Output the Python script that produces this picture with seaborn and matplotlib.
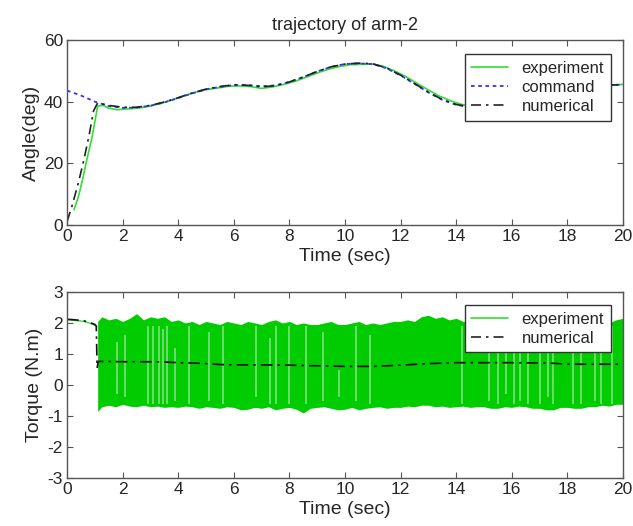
import numpy as np
import pandas as pd
import seaborn as sns
import matplotlib.pyplot as plt
from matplotlib.lines import Line2D

# ---- top panel: arm-2 angle (deg) ----
cmd_t = [0, 0.5, 1, 1.5, 2, 2.5, 3, 3.5, 4, 4.5, 5, 5.5, 6, 6.5, 7, 7.5, 8, 8.5,
         9, 9.5, 10, 10.5, 11, 11.5, 12, 12.5, 13, 13.5, 14, 14.5, 15, 15.5, 16,
         16.5, 17, 17.5, 18, 18.5, 19, 19.5, 20]
cmd_ang = [43.6, 42.0, 40.0, 38.6, 38.0, 38.1, 38.7, 39.8, 41.2, 42.7, 44.0, 44.8,
           45.4, 45.4, 45.0, 45.3, 46.4, 48.0, 49.8, 51.3, 52.2, 52.4, 52.2, 50.8,
           48.5, 45.8, 43.0, 40.6, 39.0, 38.2, 38.0, 38.3, 39.0, 40.1, 41.4, 42.6,
           43.6, 44.4, 45.0, 45.4, 45.5]

num_t = [0, 0.17, 0.4, 0.6, 0.8, 0.95, 1.1, 1.5, 2, 2.5, 3, 3.5, 4, 4.5, 5, 5.5, 6,
         6.5, 7, 7.5, 8, 8.5, 9, 9.5, 10, 10.5, 11, 11.5, 12, 12.5, 13, 13.5, 14,
         14.5, 15, 15.5, 16, 16.5, 17, 17.5, 18, 18.5, 19, 19.5, 20]
num_ang = [1.2, 6.0, 13.5, 21.0, 29.5, 37.0, 39.6, 38.8, 38.2, 38.2, 38.8, 39.9,
           41.3, 42.8, 44.1, 44.9, 45.5, 45.3, 44.8, 45.2, 46.4, 48.0, 49.8, 51.3,
           52.2, 52.5, 52.3, 50.9, 48.6, 45.9, 43.1, 40.7, 39.1, 38.3, 38.0, 38.3,
           39.0, 40.1, 41.4, 42.6, 43.6, 44.4, 45.0, 45.4, 45.5]

exp_t = [0.25, 0.4, 0.55, 0.7, 0.9, 1.1, 1.3, 1.5, 1.8, 2.1, 2.4, 2.7, 3.0, 3.4,
         3.8, 4.2, 4.6, 5.0, 5.4, 5.8, 6.2, 6.6, 7.0, 7.4, 7.8, 8.2, 8.6, 9.0, 9.4,
         9.8, 10.2, 10.6, 11.0, 11.4, 11.8, 12.2, 12.6, 13.0, 13.4, 13.8, 14.2,
         14.6, 15.0, 15.5, 16, 16.5, 17, 17.5, 18, 18.5, 19, 19.5, 20]
exp_ang = [5.0, 9.0, 14.5, 20.8, 28.5, 38.6, 38.8, 37.9, 37.4, 37.6, 37.8, 38.1,
           38.6, 39.5, 40.6, 41.9, 43.0, 43.9, 44.4, 45.0, 45.1, 44.9, 44.3, 44.8,
           45.6, 46.6, 47.9, 49.3, 50.5, 51.4, 52.0, 52.1, 52.2, 51.4, 49.9, 48.1,
           45.9, 43.8, 41.8, 40.3, 39.1, 38.3, 37.9, 38.2, 39.0, 40.1, 41.4, 42.6,
           43.6, 44.4, 45.0, 45.4, 45.6]

# ---- bottom panel: torque (N.m) ----
tq_num_t = [0, 0.3, 0.6, 0.8, 1.0, 1.05, 1.08, 1.12, 1.5, 2, 3, 3.5, 4, 4.5, 5,
            5.5, 6, 7, 8, 9, 10, 11, 12, 13, 14, 15, 16, 17, 17.5, 18, 19, 20]
tq_num = [2.12, 2.1, 2.07, 2.02, 1.95, 1.9, 0.55, 0.76, 0.76, 0.75, 0.75, 0.74,
          0.72, 0.71, 0.69, 0.66, 0.65, 0.65, 0.64, 0.62, 0.6, 0.6, 0.64, 0.69,
          0.72, 0.72, 0.72, 0.71, 0.7, 0.67, 0.67, 0.67]

tq_pre_t = [0, 0.3, 0.6, 0.8, 1.0, 1.08]
tq_pre = [2.1, 2.08, 2.05, 2.0, 1.93, 1.88]

# envelope of the dense experimental torque signal
band_t = [1.1, 1.25, 1.5, 1.75, 2, 2.25, 2.5, 2.75, 3, 3.25, 3.5, 3.75, 4, 4.25,
          4.5, 4.75, 5, 5.25, 5.5, 5.75, 6, 6.25, 6.5, 6.75, 7, 7.25, 7.5, 7.75,
          8, 8.25, 8.5, 8.75, 9, 9.25, 9.5, 9.75, 10, 10.25, 10.5, 10.75, 11,
          11.25, 11.5, 11.75, 12, 12.25, 12.5, 12.75, 13, 13.25, 13.5, 13.75, 14,
          14.25, 14.5, 14.75, 15, 15.25, 15.5, 15.75, 16, 16.25, 16.5, 16.75, 17,
          17.25, 17.5, 17.75, 18, 18.25, 18.5, 18.75, 19, 19.25, 19.5, 19.75, 20]
band_hi = [2.05, 2.2, 2.1, 2.15, 2.05, 2.15, 2.3, 2.1, 2.2, 2.15, 2.2, 2.05,
           2.1, 2.0, 2.05, 1.95, 2.05, 2.0, 1.95, 2.05, 2.0, 1.95, 2.05, 2.0,
           1.95, 2.05, 2.1, 2.0, 2.05, 1.95, 2.0, 1.95, 1.95, 2.0, 2.05, 1.95,
           1.95, 2.0, 2.05, 1.95, 2.0, 1.95, 2.0, 2.05, 2.05, 2.1, 2.05, 2.2,
           2.25, 2.15, 2.2, 2.1, 2.15, 2.05, 2.05, 2.1, 2.1, 2.05, 2.05, 2.0,
           2.0, 2.1, 2.05, 2.1, 2.05, 2.0, 2.05, 1.95, 2.0, 2.05, 2.1, 2.0,
           2.05, 2.0, 2.0, 2.1, 2.15]
band_lo = [-0.85, -0.7, -0.65, -0.7, -0.62, -0.68, -0.7, -0.65, -0.7, -0.68,
           -0.72, -0.7, -0.72, -0.68, -0.7, -0.75, -0.7, -0.72, -0.75, -0.7,
           -0.72, -0.8, -0.78, -0.72, -0.75, -0.7, -0.8, -0.75, -0.72, -0.78,
           -0.9, -0.75, -0.72, -0.7, -0.75, -0.8, -0.78, -0.72, -0.8, -0.75,
           -0.72, -0.7, -0.75, -0.72, -0.72, -0.68, -0.7, -0.65, -0.65, -0.7,
           -0.68, -0.72, -0.7, -0.68, -0.72, -0.7, -0.7, -0.75, -0.75, -0.7,
           -0.72, -0.68, -0.7, -0.75, -0.75, -0.8, -0.8, -0.72, -0.72, -0.75,
           -0.75, -0.7, -0.7, -0.65, -0.68, -0.62, -0.62]

gap_t = [1.8, 2.1, 2.9, 3.1, 3.3, 3.45, 3.6, 3.9, 4.4, 5.1, 5.6, 6.8, 7.3, 7.5,
         8.0, 8.6, 9.2, 9.8, 10.4, 10.9, 14.2, 15.2, 15.5, 15.8, 16.1, 16.3, 16.6,
         17.0, 17.3, 17.5, 18.2, 18.5, 19.0, 19.2, 19.6]
gap_hi = [1.4, 1.6, 1.9, 1.9, 1.9, 1.8, 1.9, 1.2, 1.9, 1.7, 1.9, 1.9, 1.5, 1.9,
          1.9, 1.9, 1.7, 0.5, 1.9, 1.6, 1.9, 1.3, 1.9, 1.4, 1.9, 1.5, 1.9, 1.9,
          1.3, 1.9, 1.6, 1.9, 1.9, 1.5, 1.9]
gap_lo = [-0.3, -0.4, -0.6, -0.6, -0.6, -0.6, -0.6, -0.5, -0.6, -0.5, -0.6,
          -0.4, -0.6, -0.6, -0.6, -0.6, -0.5, -0.4, -0.5, -0.6, -0.6, -0.5, -0.6,
          -0.3, -0.6, -0.5, -0.6, -0.6, -0.4, -0.6, -0.6, -0.6, -0.5, -0.6, -0.6]

sns.set_style('ticks', {'xtick.direction': 'in', 'ytick.direction': 'in',
                        'axes.edgecolor': '#555555'})
plt.rcParams['font.family'] = ['Liberation Sans', 'DejaVu Sans']
plt.rcParams['axes.unicode_minus'] = False

fig = plt.figure(figsize=(6.33, 5.26), dpi=100)
ax1 = fig.add_axes([0.106, 0.572, 0.878, 0.352])
ax2 = fig.add_axes([0.106, 0.091, 0.878, 0.354])

green = '#33dd33'
num_style = (0, (6, 3, 1.5, 3))
sns.lineplot(x=exp_t, y=exp_ang, ax=ax1, color=green, lw=1.2, label='experiment')
sns.lineplot(x=cmd_t, y=cmd_ang, ax=ax1, color='#3333ff', lw=1.3,
             linestyle=(0, (2, 2)), label='command')
sns.lineplot(x=num_t, y=num_ang, ax=ax1, color='#222222', lw=1.2,
             linestyle=num_style, label='numerical')

ax1.set_xlim(0, 20)
ax1.set_ylim(0, 60)
ax1.set_xticks(np.arange(0, 21, 2))
ax1.set_yticks([0, 20, 40, 60])
ax1.set_title('trajectory of arm-2', fontsize=13, pad=7)
ax1.set_xlabel('Time (sec)', fontsize=14, labelpad=3)
ax1.set_ylabel('Angle(deg)', fontsize=14, labelpad=3)
ax1.legend(loc='upper right', fontsize=12, frameon=True, fancybox=False,
           edgecolor='#333333', framealpha=1, borderpad=0.4, labelspacing=0.25,
           handlelength=2.2, bbox_to_anchor=(0.993, 0.97))

band_green = '#00cc00'
ax2.fill_between(band_t, band_lo, band_hi, color=band_green, lw=0)
ax2.vlines(gap_t, gap_lo, gap_hi, color='#7ee07e', lw=1.2)
sns.lineplot(x=tq_pre_t, y=tq_pre, ax=ax2, color=green, lw=1.0)
sns.lineplot(x=tq_num_t, y=tq_num, ax=ax2, color='#111111', lw=1.2,
             linestyle=(0, (7, 3, 1.5, 3)))

ax2.set_xlim(0, 20)
ax2.set_ylim(-3, 3)
ax2.set_xticks(np.arange(0, 21, 2))
ax2.set_yticks(np.arange(-3, 4, 1))
ax2.set_xlabel('Time (sec)', fontsize=14, labelpad=3)
ax2.set_ylabel('Torque (N.m)', fontsize=14, labelpad=3)
handles = [Line2D([], [], color=green, lw=1.2),
           Line2D([], [], color='#222222', lw=1.2, linestyle=num_style)]
ax2.legend(handles, ['experiment', 'numerical'], loc='upper right', fontsize=12,
           frameon=True, fancybox=False, edgecolor='#333333', framealpha=1,
           borderpad=0.4, labelspacing=0.25, handlelength=2.2,
           bbox_to_anchor=(0.993, 0.975))

for ax in (ax1, ax2):
    ax.tick_params(labelsize=12.5, top=True, right=True, length=4, width=0.8,
                   color='#555555', pad=3)
    for s in ax.spines.values():
        s.set_linewidth(1.0)

fig.savefig('out.png', dpi=100)
